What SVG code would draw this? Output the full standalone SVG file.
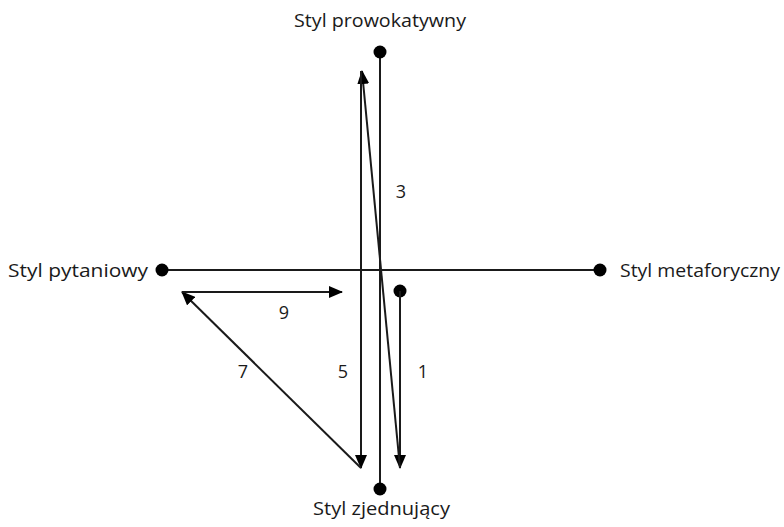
<svg xmlns="http://www.w3.org/2000/svg" width="784" height="527" viewBox="0 0 784 527">
<style>
.ln{stroke:#1a1a1a;stroke-width:2;fill:none}
.ar{stroke:#1a1a1a;stroke-width:2;fill:none;marker-end:url(#ah)}
.dot{fill:#000}
.lbl{font-family:"Open Sans","Noto Sans",sans-serif;font-size:18px;fill:#1a1a1a}
</style>
<defs>
<marker id="ah" viewBox="0 0 14 12" refX="13" refY="6" markerWidth="14" markerHeight="12" markerUnits="userSpaceOnUse" orient="auto">
<path d="M0,0 L14,6 L0,12 Z" fill="#000"/>
</marker>
</defs>
<g id="axes">
<line class="ln" x1="380" y1="52" x2="380" y2="489"/>
<line class="ln" x1="162" y1="270" x2="600" y2="270"/>
</g>
<g id="node-prowokatywny">
<circle class="dot" cx="380" cy="52" r="6.5"/>
<text class="lbl" x="294" y="27" textLength="172" lengthAdjust="spacingAndGlyphs">Styl prowokatywny</text>
</g>
<g id="node-zjednujacy">
<circle class="dot" cx="380" cy="489" r="6.5"/>
<text class="lbl" x="313" y="515" textLength="137" lengthAdjust="spacingAndGlyphs">Styl zjednujący</text>
</g>
<g id="node-pytaniowy">
<circle class="dot" cx="162" cy="270" r="6.5"/>
<text class="lbl" x="8" y="277" textLength="140" lengthAdjust="spacingAndGlyphs">Styl pytaniowy</text>
</g>
<g id="node-metaforyczny">
<circle class="dot" cx="600" cy="270" r="6.5"/>
<text class="lbl" x="620" y="277" textLength="160" lengthAdjust="spacingAndGlyphs">Styl metaforyczny</text>
</g>
<g id="node-start">
<circle class="dot" cx="400" cy="291" r="6.5"/>
</g>
<g id="connectors">
<line class="ar" x1="400" y1="291" x2="400" y2="468"/>
<line class="ar" x1="400" y1="468" x2="362" y2="71"/>
<line class="ar" x1="361" y1="71" x2="361" y2="468"/>
<line class="ar" x1="361" y1="468" x2="182" y2="292"/>
<line class="ar" x1="182" y1="292" x2="342" y2="292"/>
</g>
<g id="labels">
<text class="lbl" x="401" y="198" text-anchor="middle">3</text>
<text class="lbl" x="423" y="378" text-anchor="middle">1</text>
<text class="lbl" x="343" y="378" text-anchor="middle">5</text>
<text class="lbl" x="243" y="378" text-anchor="middle">7</text>
<text class="lbl" x="284" y="319" text-anchor="middle">9</text>
</g>
</svg>
